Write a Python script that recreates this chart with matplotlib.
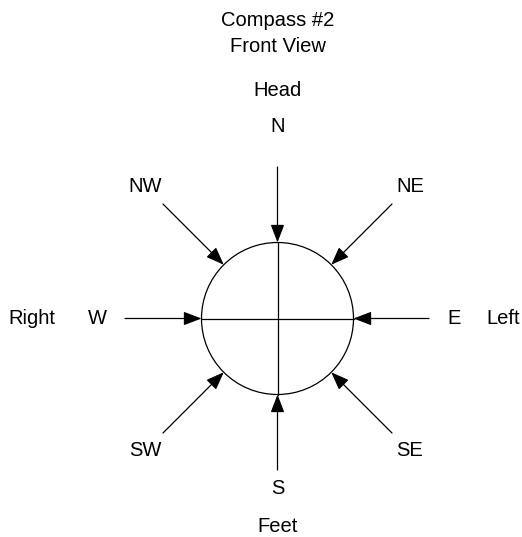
import numpy as np
import matplotlib
matplotlib.use("Agg")
import matplotlib.pyplot as plt
from matplotlib.patches import Circle

# ---- data ----
title_lines = ["Compass #2", "Front View"]
directions = ["N", "NE", "E", "SE", "S", "SW", "W", "NW"]
angles_deg = [90, 45, 0, -45, -90, -135, 180, 135]
body_labels = ["Head", "Left", "Feet", "Right"]   # N, E, S, W sides

# ---- layout (pixels) ----
W, H = 522, 537
cx, cy = 277.5, 318.5
R = 76.0
fs = 14.5
fam = ["Liberation Sans", "DejaVu Sans"]

fig = plt.figure(figsize=(W / 100, H / 100), dpi=100)
ax = fig.add_axes([0, 0, 1, 1])
ax.set_xlim(0, W)
ax.set_ylim(H, 0)
ax.set_aspect("equal")
ax.axis("off")

lw = 0.9
ax.add_patch(Circle((cx, cy), R, fill=False, ec="black", lw=lw))
# cross lines inside circle
ax.plot([cx - R, cx + R], [cy, cy], color="black", lw=lw)
ax.plot([cx, cx], [cy - R, cy + R], color="black", lw=lw)

start_r = {0: 151.5, 90: 151.5, -90: 151.5, 180: 152.5}
label_off = {"N": (0, -191.5), "S": (0, 170.5), "W": (-180.5, 0), "E": (176.5, 0)}
diag_start = 114.5 * np.sqrt(2)
diag_label = 132.5 * np.sqrt(2)

for name, a in zip(directions, angles_deg):
    t = np.deg2rad(a)
    ux, uy = np.cos(t), -np.sin(t)
    if a % 90 == 0:
        rs = start_r[a]
        lx, ly = cx + label_off[name][0], cy + label_off[name][1]
    else:
        rs = diag_start
        lx, ly = cx + ux * diag_label, cy + uy * diag_label
    sx, sy = cx + ux * rs, cy + uy * rs
    ex, ey = cx + ux * R, cy + uy * R
    ax.annotate("", xy=(ex, ey), xytext=(sx, sy),
                arrowprops=dict(arrowstyle="-|>,head_length=0.55,head_width=0.21",
                                mutation_scale=20, shrinkA=0, shrinkB=0,
                                color="black", lw=lw))
    ax.text(lx, ly, name, ha="center", va="center", fontsize=fs, family=fam)

# body side labels
ax.text(cx, 90, body_labels[0], ha="center", va="center", fontsize=fs, family=fam)
ax.text(503, cy, body_labels[1], ha="center", va="center", fontsize=fs, family=fam)
ax.text(cx, 527, body_labels[2], ha="center", va="center", fontsize=fs, family=fam)
ax.text(32, cy, body_labels[3], ha="center", va="center", fontsize=fs, family=fam)

# title
ax.text(cx, 21, title_lines[0], ha="center", va="center", fontsize=fs, family=fam)
ax.text(cx, 47, title_lines[1], ha="center", va="center", fontsize=fs, family=fam)

fig.savefig("out.png", dpi=100, facecolor="white")
